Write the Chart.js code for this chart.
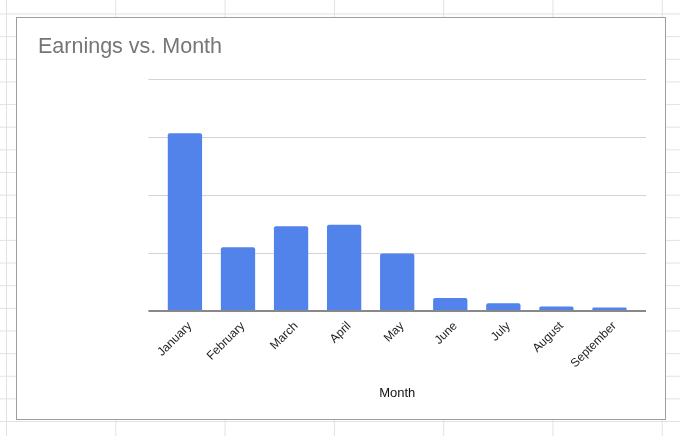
<!DOCTYPE html>
<html lang="en">
<head>
  <meta charset="UTF-8">
  <title>Earnings vs. Month</title>
  <script src="https://cdn.jsdelivr.net/npm/chart.js@4.4.0/dist/chart.umd.min.js"></script>
  <style>
    html, body { margin: 0; padding: 0; }
    body {
      width: 680px; height: 436px; position: relative; overflow: hidden; background: #fff;
      /* spreadsheet cells behind the chart */
      background-image: linear-gradient(to right, #e2e2e2 1px, transparent 1px),
                        linear-gradient(to bottom, #e2e2e2 1px, transparent 1px);
      background-size: 109.3px 100%, 100% 22.65px;
      background-position: 6px 0, 0 13.5px;
    }
    #box {
      position: absolute; left: 16px; top: 17px; width: 650px; height: 403px;
      box-sizing: border-box; border: 1px solid #9e9e9e; background: #fff;
    }
    #c { position: absolute; left: 0; top: 0; }
  </style>
</head>
<body>
  <div id="box"></div>
  <canvas id="c" width="680" height="436"></canvas>
  <script>
    // data (y axis has no labels, so units are relative)
    var months = ['January', 'February', 'March', 'April', 'May', 'June', 'July', 'August', 'September'];
    var earnings = [3070, 1100, 1465, 1487, 993, 226, 135, 78, 60];
    var yMin = 0, yMax = 4000, yStep = 1000;

    var FONT = "'Liberation Sans', Arial, sans-serif";

    function gridColor(ctx) {
      return ctx.tick && ctx.tick.value === 0 ? '#888888' : '#d3d3d3';
    }
    function gridWidth(ctx) {
      return ctx.tick && ctx.tick.value === 0 ? 2 : 1;
    }

    var ctx = document.getElementById('c');
    var chart = new Chart(ctx, {
      type: 'bar',
      data: {
        labels: months,
        datasets: [{
          label: 'Earnings',
          data: earnings,
          backgroundColor: '#5283eb',
          borderRadius: { topLeft: 2, topRight: 2, bottomLeft: 0, bottomRight: 0 },
          borderSkipped: 'start',
          barPercentage: 0.646,
          categoryPercentage: 1
        }]
      },
      options: {
        responsive: false,
        animation: false,
        layout: { padding: { left: 38, right: 20, top: 20, bottom: 25 } },
        plugins: {
          legend: { display: false },
          title: {
            display: true,
            text: 'Earnings vs. Month',
            align: 'start',
            color: '#757575',
            font: { family: FONT, size: 21.5, weight: 'normal' },
            padding: { top: 14.65, bottom: 18.85 }
          }
        },
        scales: {
          x: {
            grid: { display: false },
            border: { display: false },
            ticks: {
              color: '#222',
              font: { family: FONT, size: 12 },
              maxRotation: 45,
              minRotation: 45,
              padding: 0,
              labelOffset: 5
            },
            title: {
              display: true,
              text: 'Month',
              color: '#111',
              font: { family: FONT, size: 13 },
              padding: { top: 0, bottom: 9.7 }
            },
            afterFit: function (s) { s.height = 100; }
          },
          y: {
            min: yMin,
            max: yMax,
            ticks: { stepSize: yStep, display: false },
            border: { display: false },
            grid: { color: gridColor, lineWidth: gridWidth, drawTicks: true, tickLength: 10 },
            afterFit: function (s) { s.width = 120.4; }
          },
          y2: {
            type: 'linear',
            position: 'right',
            min: yMin,
            max: yMax,
            ticks: { stepSize: yStep, display: false },
            border: { display: false },
            grid: { color: gridColor, lineWidth: gridWidth, drawOnChartArea: false, drawTicks: true, tickLength: 10 },
            afterFit: function (s) { s.width = 24; }
          }
        }
      }
    });
  </script>
</body>
</html>
